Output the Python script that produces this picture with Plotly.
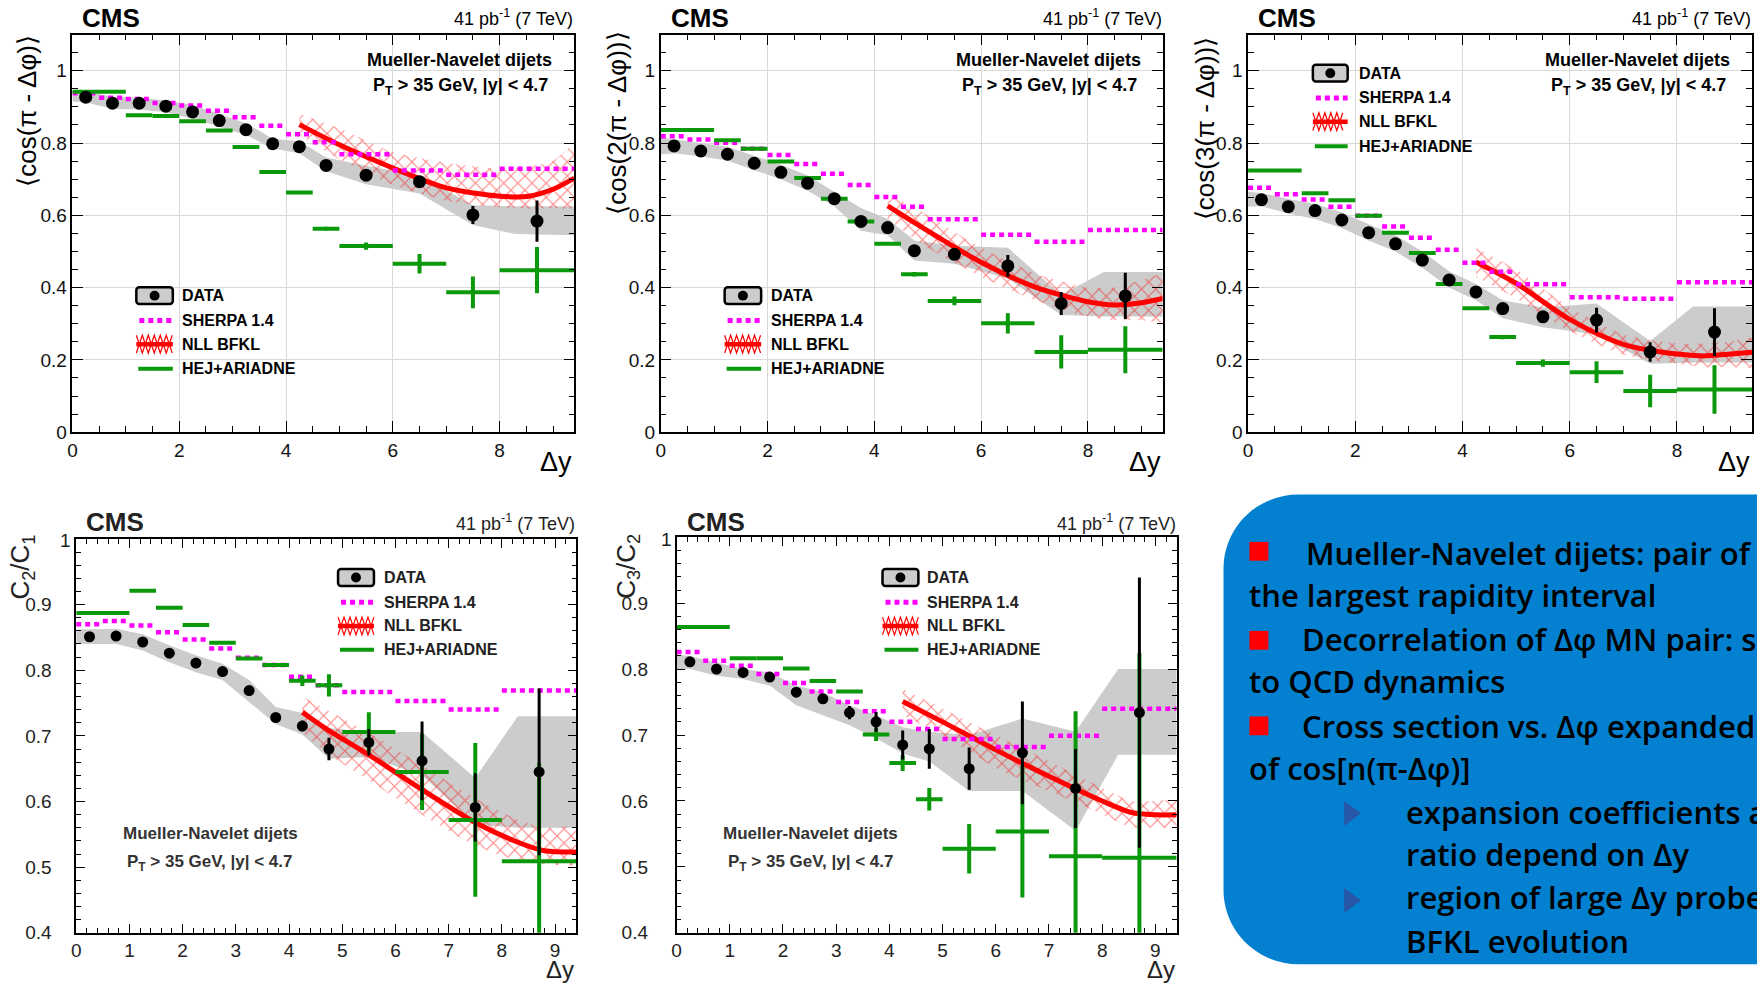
import plotly.graph_objects as go

W, H = 1757, 990

# ---------------------------------------------------------------- binning
bin_lo = [0, 0.5, 1, 1.5, 2, 2.5, 3, 3.5, 4, 4.5, 5, 6, 7, 8]
bin_hi = [0.5, 1, 1.5, 2, 2.5, 3, 3.5, 4, 4.5, 5, 6, 7, 8, 9.4]
data_x = [0.25, 0.75, 1.25, 1.75, 2.25, 2.75, 3.25, 3.75, 4.25, 4.75, 5.5, 6.5, 7.5, 8.7]
hej_lo = [0, 1, 1.5, 2, 2.5, 3, 3.5, 4, 4.5, 5, 6, 7, 8]
hej_hi = [1, 1.5, 2, 2.5, 3, 3.5, 4, 4.5, 5, 6, 7, 8, 9.4]
band_x = [0, 0.25, 0.75, 1.25, 1.75, 2.25, 2.75, 3.25, 3.75, 4.25, 4.75, 5.5, 6.5, 7.5, 8.3, 9.4]

# ---------------------------------------------------------------- <cos(pi - dphi)>
c1_data = [0.927, 0.910, 0.910, 0.902, 0.886, 0.862, 0.837, 0.798, 0.790, 0.738, 0.711, 0.693, 0.601, 0.584]
c1_err = [0, 0, 0, 0, 0, 0, 0, 0, 0, 0.004, 0.006, 0.012, 0.025, 0.057]
c1_syst_hi = [0.945, 0.942, 0.928, 0.925, 0.918, 0.905, 0.880, 0.855, 0.812, 0.805, 0.760, 0.737, 0.710, 0.628, 0.625, 0.625]
c1_syst_lo = [0.915, 0.912, 0.895, 0.893, 0.885, 0.868, 0.845, 0.822, 0.785, 0.772, 0.722, 0.686, 0.660, 0.573, 0.548, 0.545]
c1_sherpa = [0.938, 0.925, 0.922, 0.911, 0.904, 0.889, 0.871, 0.848, 0.824, 0.802, 0.769, 0.724, 0.712, 0.729]
c1_hej = [0.942, 0.877, 0.875, 0.860, 0.835, 0.789, 0.720, 0.663, 0.563, 0.515, 0.466, 0.387, 0.448]
c1_hej_err = [0, 0, 0, 0, 0, 0, 0, 0, 0.005, 0.010, 0.027, 0.044, 0.064]
c1_nll_x = [4.25, 5.0, 6.0, 7.0, 8.0, 8.55, 9.0, 9.4]
c1_nll = [0.851, 0.795, 0.731, 0.676, 0.653, 0.653, 0.672, 0.703]
c1_nll_lo = [0.822, 0.755, 0.685, 0.640, 0.622, 0.619, 0.620, 0.622]
c1_nll_hi = [0.881, 0.840, 0.775, 0.745, 0.730, 0.735, 0.750, 0.795]

# ---------------------------------------------------------------- <cos(2(pi - dphi))>
c2_data = [0.792, 0.778, 0.769, 0.744, 0.719, 0.689, 0.646, 0.583, 0.566, 0.502, 0.492, 0.460, 0.356, 0.377]
c2_err = [0, 0, 0, 0, 0, 0, 0, 0, 0, 0.004, 0.008, 0.030, 0.032, 0.064]
c2_syst_hi = [0.815, 0.810, 0.800, 0.790, 0.765, 0.740, 0.710, 0.665, 0.620, 0.590, 0.530, 0.516, 0.510, 0.380, 0.443, 0.443]
c2_syst_lo = [0.768, 0.772, 0.763, 0.752, 0.725, 0.700, 0.668, 0.625, 0.557, 0.545, 0.475, 0.466, 0.425, 0.324, 0.320, 0.320]
c2_sherpa = [0.819, 0.810, 0.801, 0.784, 0.767, 0.742, 0.715, 0.684, 0.651, 0.624, 0.589, 0.546, 0.527, 0.559]
c2_hej = [0.836, 0.808, 0.784, 0.749, 0.703, 0.646, 0.583, 0.521, 0.437, 0.363, 0.301, 0.222, 0.228]
c2_hej_err = [0, 0, 0, 0, 0, 0, 0, 0, 0.006, 0.012, 0.028, 0.046, 0.065]
c2_nll_x = [4.25, 5.0, 6.0, 7.0, 8.0, 8.5, 9.0, 9.4]
c2_nll = [0.626, 0.557, 0.470, 0.402, 0.361, 0.352, 0.358, 0.370]
c2_nll_lo = [0.590, 0.510, 0.430, 0.365, 0.320, 0.310, 0.310, 0.305]
c2_nll_hi = [0.660, 0.600, 0.510, 0.440, 0.400, 0.400, 0.420, 0.435]

# ---------------------------------------------------------------- <cos(3(pi - dphi))>
c3_data = [0.643, 0.624, 0.613, 0.587, 0.552, 0.521, 0.476, 0.421, 0.388, 0.342, 0.319, 0.310, 0.222, 0.277]
c3_err = [0, 0, 0, 0, 0, 0, 0, 0, 0, 0.004, 0.008, 0.034, 0.027, 0.066]
c3_syst_hi = [0.665, 0.662, 0.645, 0.632, 0.608, 0.575, 0.545, 0.500, 0.445, 0.410, 0.365, 0.345, 0.356, 0.252, 0.348, 0.348]
c3_syst_lo = [0.624, 0.625, 0.605, 0.590, 0.565, 0.530, 0.500, 0.455, 0.400, 0.365, 0.315, 0.290, 0.270, 0.189, 0.193, 0.193]
c3_sherpa = [0.676, 0.658, 0.644, 0.624, 0.599, 0.569, 0.538, 0.505, 0.469, 0.444, 0.409, 0.373, 0.369, 0.415]
c3_hej = [0.724, 0.661, 0.642, 0.599, 0.552, 0.496, 0.410, 0.343, 0.263, 0.191, 0.166, 0.114, 0.118]
c3_hej_err = [0, 0, 0, 0, 0, 0, 0, 0, 0.006, 0.010, 0.030, 0.045, 0.067]
c3_nll_x = [4.25, 5.0, 6.0, 7.0, 8.0, 8.5, 9.0, 9.4]
c3_nll = [0.471, 0.412, 0.312, 0.243, 0.216, 0.211, 0.216, 0.221]
c3_nll_lo = [0.430, 0.370, 0.280, 0.215, 0.190, 0.180, 0.180, 0.180]
c3_nll_hi = [0.510, 0.450, 0.345, 0.270, 0.245, 0.245, 0.250, 0.260]

# ---------------------------------------------------------------- C2/C1
r21_data = [0.851, 0.852, 0.843, 0.826, 0.811, 0.798, 0.769, 0.728, 0.715, 0.680, 0.690, 0.662, 0.591, 0.645]
r21_err = [0, 0, 0, 0, 0, 0, 0, 0, 0.008, 0.017, 0.020, 0.060, 0.052, 0.127]
r21_syst_hi = [0.862, 0.862, 0.863, 0.855, 0.838, 0.823, 0.810, 0.785, 0.744, 0.735, 0.712, 0.706, 0.706, 0.636, 0.730, 0.730]
r21_syst_lo = [0.840, 0.840, 0.840, 0.830, 0.812, 0.797, 0.785, 0.752, 0.718, 0.702, 0.665, 0.668, 0.640, 0.565, 0.560, 0.560]
r21_sherpa = [0.870, 0.875, 0.868, 0.858, 0.847, 0.833, 0.819, 0.808, 0.790, 0.777, 0.767, 0.753, 0.740, 0.769]
r21_hej = [0.887, 0.921, 0.895, 0.869, 0.842, 0.818, 0.808, 0.784, 0.777, 0.706, 0.645, 0.572, 0.509]
r21_hej_err = [0, 0, 0, 0, 0, 0, 0, 0.008, 0.017, 0.030, 0.058, 0.117, 0.150]
r21_nll_x = [4.25, 4.75, 5.5, 6.5, 7.5, 8.3, 8.8, 9.4]
r21_nll = [0.736, 0.708, 0.671, 0.618, 0.568, 0.538, 0.525, 0.523]
r21_nll_lo = [0.705, 0.672, 0.632, 0.580, 0.533, 0.510, 0.505, 0.505]
r21_nll_hi = [0.760, 0.738, 0.705, 0.655, 0.605, 0.572, 0.560, 0.560]

# ---------------------------------------------------------------- C3/C2
r32_data = [0.811, 0.800, 0.795, 0.788, 0.765, 0.755, 0.734, 0.720, 0.685, 0.679, 0.649, 0.673, 0.619, 0.734]
r32_err = [0, 0, 0, 0, 0, 0, 0.010, 0.015, 0.022, 0.030, 0.032, 0.078, 0.060, 0.205]
r32_syst_hi = [0.822, 0.820, 0.810, 0.800, 0.795, 0.775, 0.765, 0.745, 0.730, 0.712, 0.705, 0.700, 0.725, 0.705, 0.800, 0.800]
r32_syst_lo = [0.800, 0.800, 0.790, 0.785, 0.775, 0.745, 0.730, 0.715, 0.695, 0.672, 0.660, 0.615, 0.615, 0.555, 0.670, 0.670]
r32_sherpa = [0.826, 0.8125, 0.805, 0.7925, 0.779, 0.766, 0.750, 0.736, 0.720, 0.709, 0.694, 0.682, 0.699, 0.740]
r32_hej = [0.864, 0.8165, 0.8165, 0.801, 0.782, 0.766, 0.701, 0.6575, 0.6025, 0.5275, 0.5535, 0.516, 0.514]
r32_hej_err = [0, 0, 0, 0, 0, 0, 0.010, 0.012, 0.017, 0.0375, 0.100, 0.220, 0.310]
r32_nll_x = [4.25, 5.0, 6.0, 7.0, 8.0, 8.55, 9.0, 9.4]
r32_nll = [0.751, 0.720, 0.6775, 0.6375, 0.600, 0.5825, 0.579, 0.579]
r32_nll_lo = [0.730, 0.700, 0.650, 0.615, 0.580, 0.560, 0.560, 0.560]
r32_nll_hi = [0.770, 0.740, 0.700, 0.660, 0.620, 0.600, 0.600, 0.600]

# ---------------------------------------------------------------- styling
ROOT_FONT = "Liberation Sans, Arial, Helvetica, sans-serif"
BOX_FONT = "Open Sans, Lato, sans-serif"
GRAY = "#CCCCCC"
RED = "#FF0000"
MAGENTA = "#FF00FF"
GREEN = "#0A990A"
BLUE_BOX = "#0480D0"

panels = [
    dict(data=c1_data, err=c1_err, shi=c1_syst_hi, slo=c1_syst_lo, sherpa=c1_sherpa,
         hej=c1_hej, hej_err=c1_hej_err, nx=c1_nll_x, ny=c1_nll, nlo=c1_nll_lo, nhi=c1_nll_hi,
         box=(67.6, 35, 571, 437), upper=True, title="⟨cos(π - Δφ)⟩", title_xy=(22, 112)),
    dict(data=c2_data, err=c2_err, shi=c2_syst_hi, slo=c2_syst_lo, sherpa=c2_sherpa,
         hej=c2_hej, hej_err=c2_hej_err, nx=c2_nll_x, ny=c2_nll, nlo=c2_nll_lo, nhi=c2_nll_hi,
         box=(657.6, 35, 1161, 437), upper=True, title="⟨cos(2(π - Δφ))⟩", title_xy=(613, 125)),
    dict(data=c3_data, err=c3_err, shi=c3_syst_hi, slo=c3_syst_lo, sherpa=c3_sherpa,
         hej=c3_hej, hej_err=c3_hej_err, nx=c3_nll_x, ny=c3_nll, nlo=c3_nll_lo, nhi=c3_nll_hi,
         box=(1246.6, 35, 1752, 437), upper=True, title="⟨cos(3(π - Δφ))⟩", title_xy=(1203, 130)),
    dict(data=r21_data, err=r21_err, shi=r21_syst_hi, slo=r21_syst_lo, sherpa=r21_sherpa,
         hej=r21_hej, hej_err=r21_hej_err, nx=r21_nll_x, ny=r21_nll, nlo=r21_nll_lo, nhi=r21_nll_hi,
         box=(71.4, 545, 573, 943.3), upper=False, title="C<sub>2</sub>/C<sub>1</sub>", title_xy=(17, 573),
         standoff=19),
    dict(data=r32_data, err=r32_err, shi=r32_syst_hi, slo=r32_syst_lo, sherpa=r32_sherpa,
         hej=r32_hej, hej_err=r32_hej_err, nx=r32_nll_x, ny=r32_nll, nlo=r32_nll_lo, nhi=r32_nll_hi,
         box=(673.5, 543.3, 1175, 943.3), upper=False, title="C<sub>3</sub>/C<sub>2</sub>", title_xy=(624, 573),
         standoff=23),
]

fig = go.Figure()
shapes = []
annotations = []


def pxx(x):
    return x / W


def pyy(y):
    return 1 - y / H


def ann(text, x, y, size, xanchor="left", yanchor="middle", color="black", family=ROOT_FONT,
        angle=0, weight="normal"):
    annotations.append(dict(text=text, x=pxx(x), y=pyy(y), xref="paper", yref="paper",
                            xanchor=xanchor, yanchor=yanchor, showarrow=False, textangle=angle,
                            font=dict(size=size, color=color, family=family, weight=weight)))


def seg(x0, y0, x1, y1, color, width, dash=None):
    shapes.append(dict(type="line", xref="paper", yref="paper", x0=pxx(x0), x1=pxx(x1),
                       y0=pyy(y0), y1=pyy(y1), line=dict(color=color, width=width, dash=dash)))


def rrect_path(x0, y0, x1, y1, r):
    k = 0.5523 * r
    pts = [
        ("M", [(x0 + r, y0)]), ("L", [(x1 - r, y0)]),
        ("C", [(x1 - r + k, y0), (x1, y0 + r - k), (x1, y0 + r)]), ("L", [(x1, y1 - r)]),
        ("C", [(x1, y1 - r + k), (x1 - r + k, y1), (x1 - r, y1)]), ("L", [(x0 + r, y1)]),
        ("C", [(x0 + r - k, y1), (x0, y1 - r + k), (x0, y1 - r)]), ("L", [(x0, y0 + r)]),
        ("C", [(x0, y0 + r - k), (x0 + r - k, y0), (x0 + r, y0)]),
    ]
    out = []
    for cmd, coords in pts:
        out.append(cmd + " ".join(f"{pxx(a):.6f},{pyy(b):.6f}" for a, b in coords))
    return " ".join(out) + " Z"


def legend(sx0, sx1, tx, ys, color):
    yd, ysh, ynl, yhe = ys
    cx = (sx0 + sx1) / 2
    shapes.append(dict(type="path", xref="paper", yref="paper",
                       path=rrect_path(sx0, yd - 8.5, sx1, yd + 8.5, 3),
                       fillcolor=GRAY, line=dict(color="black", width=2.5)))
    shapes.append(dict(type="circle", xref="paper", yref="paper",
                       x0=pxx(cx - 5), x1=pxx(cx + 5), y0=pyy(yd - 5), y1=pyy(yd + 5),
                       fillcolor="black", line=dict(width=0)))
    seg(sx0 + 3, ysh, sx1, ysh, MAGENTA, 5, "5px,4px")
    # cross-hatched band symbol
    for start_top in (True, False):
        pts = []
        x, top = sx0, start_top
        while x <= sx1 + 0.01:
            pts.append((x, ynl - 9 if top else ynl + 9))
            x += 6
            top = not top
        path = "M" + " L".join(f"{pxx(a):.6f},{pyy(b):.6f}" for a, b in pts)
        shapes.append(dict(type="path", xref="paper", yref="paper", path=path,
                           line=dict(color=RED, width=1.2)))
    seg(sx0, ynl, sx1, ynl, RED, 4.5)
    seg(sx0 + 2, yhe, sx1, yhe, GREEN, 4)
    for label, y in zip(["DATA", "SHERPA 1.4", "NLL BFKL", "HEJ+ARIADNE"], ys):
        ann(f"<b>{label}</b>", tx, y, 16, color=color)


layout_axes = {}
for i, p in enumerate(panels, start=1):
    xa = "x" if i == 1 else f"x{i}"
    ya = "y" if i == 1 else f"y{i}"
    x0, y0, x1, y1 = p["box"]

    # systematic band of the measurement
    fig.add_trace(go.Scatter(
        x=band_x + band_x[::-1], y=p["shi"] + p["slo"][::-1], mode="lines", fill="toself",
        fillcolor=GRAY, line=dict(width=0), hoverinfo="skip", showlegend=False, xaxis=xa, yaxis=ya))
    # NLL BFKL uncertainty band (hatched) and central curve
    fig.add_trace(go.Scatter(
        x=p["nx"] + p["nx"][::-1], y=p["nhi"] + p["nlo"][::-1], mode="lines", fill="toself",
        fillcolor="rgba(0,0,0,0)", line=dict(width=0, shape="spline", smoothing=0.6),
        fillpattern=dict(shape="x", fgcolor=RED, bgcolor="rgba(0,0,0,0)", size=10, solidity=0.2),
        hoverinfo="skip", showlegend=False, xaxis=xa, yaxis=ya))
    fig.add_trace(go.Scatter(
        x=p["nx"], y=p["ny"], mode="lines", line=dict(color=RED, width=5, shape="spline", smoothing=0.8),
        showlegend=False, xaxis=xa, yaxis=ya))
    # SHERPA: dotted step per bin
    sx, sy = [], []
    for lo, hi, v in zip(bin_lo, bin_hi, p["sherpa"]):
        sx += [lo, hi, None]
        sy += [v, v, None]
    fig.add_trace(go.Scatter(
        x=sx, y=sy, mode="lines", line=dict(color=MAGENTA, width=4.5, dash="5px,4px"),
        showlegend=False, xaxis=xa, yaxis=ya))
    # HEJ+ARIADNE: horizontal bin bars with vertical errors
    hx = [(lo + hi) / 2 for lo, hi in zip(hej_lo, hej_hi)]
    hw = [(hi - lo) / 2 for lo, hi in zip(hej_lo, hej_hi)]
    fig.add_trace(go.Scatter(
        x=hx, y=p["hej"], mode="markers", marker=dict(size=1, color=GREEN),
        error_x=dict(type="data", array=hw, symmetric=True, color=GREEN, thickness=4, width=0),
        error_y=dict(type="data", array=p["hej_err"], symmetric=True, color=GREEN, thickness=4, width=0),
        showlegend=False, xaxis=xa, yaxis=ya))
    # DATA points
    fig.add_trace(go.Scatter(
        x=data_x, y=p["data"], mode="markers",
        marker=dict(color="black", size=13 if p["upper"] else 11),
        error_y=dict(type="data", array=p["err"], symmetric=True, color="black", thickness=3, width=0),
        showlegend=False, xaxis=xa, yaxis=ya))

    tickfont = dict(family=ROOT_FONT, size=19, color="#111" if p["upper"] else "#222")
    common = dict(showline=True, linecolor="black", linewidth=1.5, mirror="allticks",
                  ticks="inside", tickcolor="black", tickwidth=1, zeroline=False,
                  tickfont=tickfont)
    if p["upper"]:
        xaxis = dict(range=[0, 9.4], tickmode="linear", tick0=0, dtick=2, ticklen=11,
                     minor=dict(tickmode="linear", tick0=0, dtick=0.5, ticks="inside", ticklen=6,
                                tickcolor="black", showgrid=False),
                     showgrid=True, gridcolor="#D9D9D9", gridwidth=1, **common)
        yaxis = dict(range=[0, 1.1], tickmode="linear", tick0=0, dtick=0.2, ticklen=11,
                     minor=dict(tickmode="linear", tick0=0, dtick=0.05, ticks="inside", ticklen=6,
                                tickcolor="black", showgrid=False),
                     showgrid=True, gridcolor="#D9D9D9", gridwidth=1, **common)
    else:
        xaxis = dict(range=[0, 9.4], tickmode="linear", tick0=0, dtick=1, ticklen=9,
                     minor=dict(tickmode="linear", tick0=0, dtick=0.2, ticks="inside", ticklen=5,
                                tickcolor="black", showgrid=False),
                     showgrid=False, **common)
        yvals = [0.4, 0.5, 0.6, 0.7, 0.8, 0.9, 1.0]
        yaxis = dict(range=[0.4, 1.0], tickmode="array", tickvals=yvals,
                     ticktext=["0.4", "0.5", "0.6", "0.7", "0.8", "0.9", ""], ticklen=9,
                     ticklabelstandoff=p["standoff"],
                     minor=dict(tickmode="linear", tick0=0.4, dtick=0.02, ticks="inside", ticklen=5,
                                tickcolor="black", showgrid=False),
                     showgrid=False, **common)
        ann("1", x0 - 3, y0 + 2, 19, xanchor="right", color="#222")
    xaxis.update(domain=[pxx(x0), pxx(x1)], anchor=ya)
    yaxis.update(domain=[pyy(y1), pyy(y0)], anchor=xa)
    layout_axes["xaxis" if i == 1 else f"xaxis{i}"] = xaxis
    layout_axes["yaxis" if i == 1 else f"yaxis{i}"] = yaxis

    # frame labels
    tcol = "black" if p["upper"] else "#222"
    top = 18 if p["upper"] else 528
    ann("<b>CMS</b>", x0 + 8, top, 26, color=tcol)
    ann("41 pb<sup>-1</sup> (7 TeV)", x1 + 1, top, 18, xanchor="right", color=tcol)
    tx, ty = p["title_xy"]
    ann(p["title"], tx, ty, 26, xanchor="center", angle=-90, color=tcol)
    ann("Δy", x1, 467 if p["upper"] else 980, 27 if p["upper"] else 24, xanchor="right", color=tcol)

# selection text on each panel
for x_right in (551, 1141, 1732):
    ann("<b>Mueller-Navelet dijets</b>", x_right, 61, 18, xanchor="right")
    ann("<b>P<sub>T</sub> > 35 GeV, |y| < 4.7</b>", x_right - 4, 87, 18, xanchor="right")
for x_mid in (206, 808):
    ann("<b>Mueller-Navelet dijets</b>", x_mid, 843, 17, xanchor="center", color="#333")
    ann("<b>P<sub>T</sub> > 35 GeV, |y| < 4.7</b>", x_mid, 873, 17, xanchor="center", color="#333")

# legends
legend(131.7, 168.3, 176, (299, 324, 348, 373), "black")
legend(721.7, 758.3, 766, (299, 324, 348, 373), "black")
legend(1311.6, 1346.5, 1356, (74, 99, 123, 148), "black")
legend(334, 370, 378, (584, 609, 633, 657), "#222")
legend(880, 916, 923, (584, 609, 633, 657), "#222")

# summary box
shapes.append(dict(type="path", xref="paper", yref="paper", path=rrect_path(1222, 500, 1900, 975, 75),
                   fillcolor=BLUE_BOX, line=dict(width=0), layer="below"))
for yc in (557.5, 647.5, 734):
    shapes.append(dict(type="rect", xref="paper", yref="paper", x0=pxx(1248), x1=pxx(1267),
                       y0=pyy(yc - 9.5), y1=pyy(yc + 9.5), fillcolor=RED, line=dict(width=0)))
for yc in (822.5, 910.5):
    path = f"M{pxx(1343):.6f},{pyy(yc - 12.5):.6f} L{pxx(1343):.6f},{pyy(yc + 12.5):.6f} L{pxx(1360):.6f},{pyy(yc):.6f} Z"
    shapes.append(dict(type="path", xref="paper", yref="paper", path=path,
                       fillcolor="#2757A6", line=dict(width=0)))

box_lines = [
    ("Mueller-Navelet dijets: pair of", 1303, 559),
    ("the largest rapidity interval", 1246, 602),
    ("Decorrelation of Δφ MN pair: sensitive", 1299, 646),
    ("to QCD dynamics", 1246, 689),
    ("Cross section vs. Δφ expanded", 1299, 734),
    ("of cos[n(π-Δφ)]", 1246, 777),
    ("expansion coefficients and", 1403, 821),
    ("ratio depend on Δy", 1403, 864),
    ("region of large Δy probes", 1403, 907),
    ("BFKL evolution", 1403, 952),
]
for text, x, y in box_lines:
    ann(text, x, y, 31, family=BOX_FONT, weight=600)

fig.update_layout(
    width=W, height=H, autosize=False,
    margin=dict(l=0, r=0, t=0, b=0, pad=0),
    paper_bgcolor="white", plot_bgcolor="white",
    showlegend=False, shapes=shapes, annotations=annotations,
    **layout_axes,
)

fig.write_html("out.html")
